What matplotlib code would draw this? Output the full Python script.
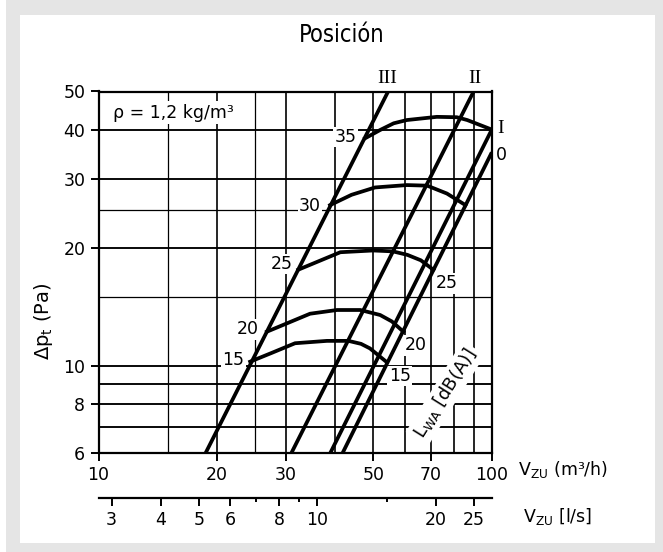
import matplotlib
matplotlib.use('Agg')
import matplotlib.pyplot as plt
from matplotlib.patches import Rectangle
from matplotlib import font_manager
from matplotlib.ticker import NullLocator

# system lines (flow m3/h, pressure Pa) read at both ends
line_names = ['III', 'II', 'I', '0']
line_v = [[18.7, 54.5], [30.9, 89.9], [38.8, 100], [41.7, 100]]
line_p = [[6, 50], [6, 50], [6, 40], [6, 35]]

# sound power curves L_WA [dB(A)]
lwa_levels = [15, 20, 25, 30, 35]
lwa15_v = [24.3, 27.5, 31.6, 38.1, 43.2, 46.5, 49.0, 54.0]
lwa15_p = [10.27, 10.8, 11.44, 11.6, 11.6, 11.4, 11.1, 10.25]
lwa20_v = [26.8, 34.5, 40.4, 46.3, 52.0, 55.7, 59.6]
lwa20_p = [12.24, 13.6, 13.9, 13.9, 13.5, 13.0, 12.24]
lwa25_v = [32.2, 41.2, 49.9, 56.0, 61.0, 66.0, 71.0]
lwa25_p = [17.6, 19.5, 19.7, 19.6, 19.2, 18.6, 17.6]
lwa30_v = [38.8, 44.0, 50.5, 60.8, 68.5, 76.9, 85.7]
lwa30_p = [25.7, 27.3, 28.5, 28.9, 28.8, 27.5, 25.7]
lwa35_v = [47.6, 52.0, 56.3, 60.8, 72.5, 81.5, 86.6, 100]
lwa35_p = [38.0, 39.9, 41.5, 42.3, 43.1, 43.0, 42.3, 40.0]

# grid and ticks
vgrid = [15, 20, 25, 30, 40, 50, 60, 70, 80, 90]
vgrid_thin = [15, 25]
hgrid = [7, 8, 9, 10, 15, 20, 25, 30, 40]
hgrid_thin = [15, 25]
x_ticks = [10, 20, 30, 50, 70, 100]
y_ticks = [6, 8, 10, 20, 30, 40, 50]
ls_ticks = [3, 4, 5, 6, 8, 10, 20, 25]
ls_minor = [7, 9, 15]

W, H = 663, 552
fig = plt.figure(figsize=(W / 100, H / 100), dpi=100)
fig.patch.set_facecolor('#e5e5e5')
fig.patches.append(Rectangle((20 / W, 1 - 543 / H), 635 / W, 528 / H, transform=fig.transFigure,
                             facecolor='white', edgecolor='none', zorder=-10))
fig.patches.append(Rectangle((0, 0), 6 / W, 1, transform=fig.transFigure,
                             facecolor='white', edgecolor='none', zorder=-10))

ax = fig.add_axes([98.5 / W, 1 - 453.4 / H, 393.3 / W, 361.9 / H])
ax.set_xscale('log')
ax.set_yscale('log')
ax.set_xlim(10, 100)
ax.set_ylim(6, 50)

for v in vgrid:
    ax.axvline(v, color='black', lw=0.9 if v in vgrid_thin else 1.2, zorder=1)
for p in hgrid:
    ax.axhline(p, color='black', lw=0.9 if p in hgrid_thin else 1.35, zorder=1)

ax.set_xticks(x_ticks, labels=[str(t) for t in x_ticks])
ax.set_yticks(y_ticks, labels=[str(t) for t in y_ticks])
ax.xaxis.set_minor_locator(NullLocator())
ax.yaxis.set_minor_locator(NullLocator())
ax.tick_params(direction='out', length=6, width=1.4, labelsize=12.5)
ax.tick_params(axis='x', pad=3)
ax.tick_params(axis='y', pad=3.5)
for s in ax.spines.values():
    s.set_linewidth(1.6)

# system lines
for v, p in zip(line_v, line_p):
    ax.plot(v, p, color='black', lw=2.7, solid_capstyle='butt', zorder=3)

curves = [(lwa15_v, lwa15_p), (lwa20_v, lwa20_p), (lwa25_v, lwa25_p),
          (lwa30_v, lwa30_p), (lwa35_v, lwa35_p)]
for v, p in curves:
    ax.plot(v, p, color='black', lw=2.7, solid_joinstyle='round', zorder=3)

box = dict(facecolor='white', edgecolor='none', pad=1)
left_pos = [(22.0, 10.4), (24.0, 12.4), (29.2, 18.2), (34.5, 25.5), (42.4, 38.3)]
for lvl, (x, y) in zip(lwa_levels, left_pos):
    ax.text(x, y, str(lvl), ha='center', va='center', fontsize=12.5, bbox=box, zorder=2)
right_pos = [(58.3, 9.44), (63.9, 11.3), (76.8, 16.25)]
for lvl, (x, y) in zip(lwa_levels[:3], right_pos):
    ax.text(x, y, str(lvl), ha='center', va='center', fontsize=12.5, bbox=box, zorder=2)

ax.text(76.2, 8.53, 'L$_{\\mathrm{WA}}$ [dB(A)]', rotation=58, rotation_mode='anchor',
        ha='center', va='center', fontsize=13, bbox=dict(facecolor='white', edgecolor='none', pad=2), zorder=2)
ax.text(10.87, 44.2, 'ρ = 1,2 kg/m³', ha='left', va='center', fontsize=12.5,
        bbox=dict(facecolor='white', edgecolor='none', pad=2), zorder=2)

serif = 'Liberation Serif'
ax.text(54.2, 54.0, 'III', ha='center', va='center', fontsize=14, family=serif, clip_on=False)
ax.text(90.5, 53.9, 'II', ha='center', va='center', fontsize=14, family=serif, clip_on=False)
ax.text(105.1, 40.3, 'I', ha='center', va='center', fontsize=14, family=serif, clip_on=False)
ax.text(105.9, 34.5, '0', ha='center', va='center', fontsize=12.5, clip_on=False)

# secondary axis in l/s
ax2 = fig.add_axes([98.5 / W, 1 - 498 / H, 393.3 / W, 0.0001])
ax2.set_xscale('log')
ax2.set_xlim(10 / 3.6, 100 / 3.6)
ax2.patch.set_alpha(0)
for k in ['top', 'left', 'right']:
    ax2.spines[k].set_visible(False)
ax2.spines['bottom'].set_linewidth(1.6)
ax2.set_yticks([])
ax2.set_xticks(ls_ticks, labels=[str(t) for t in ls_ticks])
ax2.set_xticks(ls_minor, minor=True)
ax2.xaxis.set_minor_formatter(plt.NullFormatter())
ax2.tick_params(which='major', direction='out', length=6, width=1.4, labelsize=12.5, pad=3.5)
ax2.tick_params(which='minor', direction='out', length=3, width=1.4)

# axis titles
cond = font_manager.findfont(font_manager.FontProperties(family='DejaVu Sans', stretch='condensed'))
if 'ondensed' in cond:
    fig.text(341.7 / W, 1 - 35 / H, 'Posición', ha='center', va='center',
             fontproperties=font_manager.FontProperties(fname=cond, size=17))
else:
    fig.text(341.7 / W, 1 - 35 / H, 'Posición', ha='center', va='center', family='Roboto', fontsize=15)
fig.text(43 / W, 1 - 321 / H, 'Δp$_{\\mathrm{t}}$ (Pa)', rotation=90, ha='center', va='center', fontsize=14)
fig.text(518 / W, 1 - 470 / H, 'V$_{\\mathrm{ZU}}$ (m³/h)', ha='left', va='center', fontsize=12.5)
fig.text(522.7 / W, 1 - 516.7 / H, 'V$_{\\mathrm{ZU}}$ [l/s]', ha='left', va='center', fontsize=12.5)

fig.savefig('out.png', dpi=100)
